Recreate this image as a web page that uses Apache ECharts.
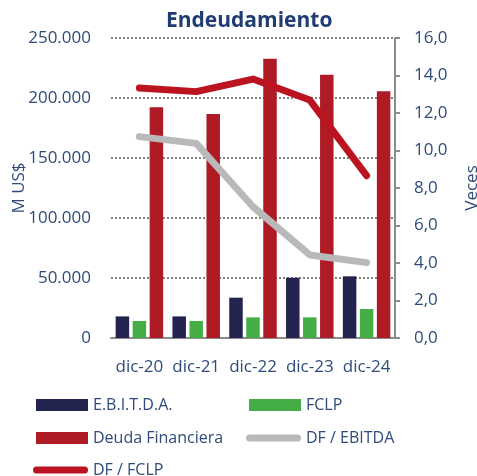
<!DOCTYPE html>
<html><head><meta charset="utf-8">
<script src="https://cdn.jsdelivr.net/npm/echarts@6/dist/echarts.min.js"></script>
<style>html,body{margin:0;padding:0;background:#fff}#c{width:477px;height:476px}</style>
</head><body><div id="c"></div>
<script>
const categories = ['dic-20','dic-21','dic-22','dic-23','dic-24'];
const ebitda = [18000, 18000, 33600, 50200, 51400];
const fclp = [14200, 14200, 17200, 17200, 24200];
const deuda = [192200, 186700, 232800, 219400, 205600];
const dfEbitda = [10.74, 10.38, 7.0, 4.43, 4.02];
const dfFclp = [13.33, 13.14, 13.81, 12.69, 8.66];
const leftTicks = [0, 50000, 100000, 150000, 200000, 250000];
const rightTicks = [0, 2, 4, 6, 8, 10, 12, 14, 16];

const txt = '#2f4b7c';
const font = 'Open Sans';
const chart = echarts.init(document.getElementById('c'), null, {renderer:'canvas'});
const lineIcon = 'path://M3.5,0 L51.5,0 A3.5,3.5 0 0 1 51.5,7 L3.5,7 A3.5,3.5 0 0 1 3.5,0 Z';
function legendAt(name, left, top, isLine){
  return {data:[name], left:left, top:top, itemWidth:isLine?55:52, itemHeight:isLine?7:12, itemGap:0,
    icon: isLine ? lineIcon : 'rect',
    textStyle:{color:txt, fontFamily:font, fontSize:16, lineHeight:20}, selectedMode:false};
}
chart.setOption({
  animation:false,
  title:{text:'Endeudamiento', left:161, top:6, textStyle:{color:'#1f3d73', fontFamily:font, fontWeight:'bold', fontSize:21}},
  grid:{left:111, right:82, top:38, bottom:138, containLabel:false, outerBoundsMode:'none'},
  legend:[
    legendAt('E.B.I.T.D.A.', 31, 390),
    legendAt('FCLP', 244, 390),
    legendAt('Deuda Financiera', 31, 423),
    legendAt('DF / EBITDA', 241, 423, true),
    legendAt('DF / FCLP', 28, 455, true)
  ],
  xAxis:{type:'category', data:categories,
    axisLine:{lineStyle:{color:'#8c8c8c', width:2}}, axisTick:{show:false},
    axisLabel:{color:txt, fontFamily:font, fontSize:17, margin:21, interval:0}},
  yAxis:[
    {type:'value', min:leftTicks[0], max:leftTicks[leftTicks.length-1], interval:50000,
     name:'M US$', nameLocation:'middle', nameGap:83, nameRotate:90, nameMoveOverlap:false,
     nameTextStyle:{color:txt, fontFamily:font, fontSize:17},
     axisLine:{show:false}, axisTick:{show:false},
     splitLine:{lineStyle:{type:'dotted', color:'#808080', width:2}},
     axisLabel:{color:txt, fontFamily:font, fontSize:17, margin:20,
       formatter:v=>String(v).replace(/\B(?=(\d{3})+(?!\d))/g,'.')}},
    {type:'value', min:rightTicks[0], max:rightTicks[rightTicks.length-1], interval:2, position:'right',
     name:'Veces', nameLocation:'middle', nameGap:69, nameRotate:90,
     nameTextStyle:{color:txt, fontFamily:font, fontSize:17},
     axisLine:{show:true, lineStyle:{color:'#8c8c8c', width:2}},
     axisTick:{show:true, inside:false, length:5, lineStyle:{color:'#8c8c8c', width:2}},
     splitLine:{show:false},
     axisLabel:{color:txt, fontFamily:font, fontSize:17, margin:19,
       formatter:v=>v.toFixed(1).replace('.',',')}}
  ],
  series:[
    {name:'E.B.I.T.D.A.', type:'bar', data:ebitda, barWidth:13.5, barGap:'26%', itemStyle:{color:'#23234f'}},
    {name:'FCLP', type:'bar', data:fclp, barWidth:13.5, barGap:'26%', itemStyle:{color:'#45ad45'}},
    {name:'Deuda Financiera', type:'bar', data:deuda, barWidth:13.5, barGap:'26%', itemStyle:{color:'#ae1b25'}},
    {name:'DF / EBITDA', type:'line', yAxisIndex:1, data:dfEbitda, symbol:'none', z:5,
     lineStyle:{color:'#b8b9b8', width:7, cap:'round', join:'round'}, itemStyle:{color:'#b8b9b8'}},
    {name:'DF / FCLP', type:'line', yAxisIndex:1, data:dfFclp, symbol:'none', z:5,
     lineStyle:{color:'#bb1420', width:7, cap:'round', join:'round'}, itemStyle:{color:'#bb1420'}}
  ]
});
</script></body></html>
